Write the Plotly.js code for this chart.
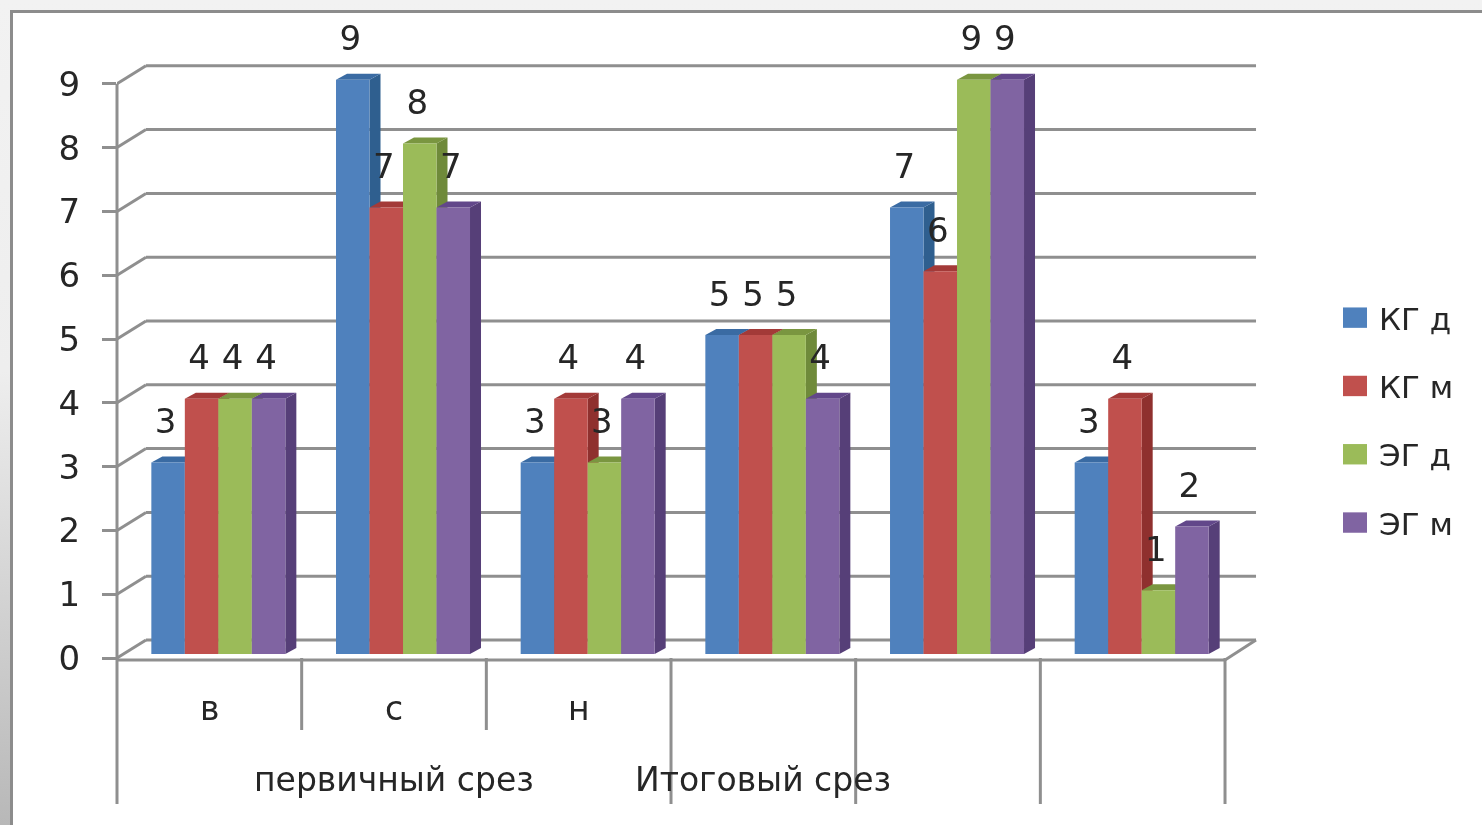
<!DOCTYPE html>
<html><head><meta charset="utf-8">
<script src="https://cdn.plot.ly/plotly-3.0.1.min.js"></script>
<style>
html,body{margin:0;padding:0;width:1482px;height:825px;overflow:hidden;background:linear-gradient(to bottom,#f2f2f2 0,#eeeeee 45%,#b8b8b8 100%);}
#frame{position:absolute;left:10px;top:10px;width:1480px;height:830px;background:#fff;border-left:3px solid #8c8c8c;border-top:3px solid #8c8c8c;}
#chart{position:absolute;left:0;top:0;width:1482px;height:825px;filter:blur(0.6px);}
</style></head>
<body><div id="frame"></div><div id="chart"></div>
<script>
const categories = ["в","с","н","","",""];
const seriesNames = ["КГ д","КГ м","ЭГ д","ЭГ м"];
const kgD = [3,9,3,5,7,3];
const kgM = [4,7,4,5,6,4];
const egD = [4,8,3,5,9,1];
const egM = [4,7,4,4,9,2];
const yTicks = [0,1,2,3,4,5,6,7,8,9];
const frontColors = ["#4f81bd","#c0504d","#9bbb59","#8064a2"];
const sideColors = ["#2f5f8f","#8f302e","#6f8a3a","#563f78"];
const topColors = ["#3a6ba3","#a33a38","#7a9640","#62478a"];
const groupLabels = [{text:"первичный срез",at:1.0},{text:"Итоговый срез",at:3.0}];

const series = [kgD,kgM,egD,egM];
const GRID = "#8f8f8f", FONT = "'DejaVu Sans', sans-serif", TXT = "#262626";
// pixel scale of the axes
const L=117,R=1262,T=20,B=825,UX=184.67,UY=63.8,Y0=658;
const xRange=[-0.5,-0.5+(R-L)/UX];
const yRange=[(Y0-B)/UY,(Y0-T)/UY];
const wallDx=29/UX, wallDy=18/UY, barDx=11/UX, barDy=6/UY;
const barShift=9/UX, groupW=134/UX, barW=groupW/4, barBase=4/UY;
const n=categories.length;
const shapes=[];
const line=(x0,y0,x1,y1,w)=>shapes.push({type:"line",xref:"x",yref:"y",x0,y0,x1,y1,layer:"below",line:{color:GRID,width:w||3}});
const poly=(pts,c)=>shapes.push({type:"path",xref:"x",yref:"y",layer:"below",fillcolor:c,line:{width:0},
  path:"M"+pts.map(p=>p.join(",")).join("L")+"Z"});
const backEnd=n-0.5+wallDx+2/UX;
// walls and gridlines
yTicks.forEach(v=>{
  line(-0.5,v,-0.5+wallDx,v+wallDy);
  line(-0.5+wallDx,v+wallDy,backEnd,v+wallDy);
});
line(-0.5,-0.03,n-0.5,-0.03);
line(n-0.5,-0.03,backEnd,wallDy);
for(let i=0;i<=n;i++){
  const long=i===0||i>=3;
  const yEnd=(Y0-(long?804:730))/UY;
  if(i===0){
    // paper reference so the plot-area clip does not halve this line
    shapes.push({type:"line",xref:"paper",yref:"y",x0:0,x1:0,y0:9,y1:yEnd,layer:"below",line:{color:GRID,width:3}});
  } else line(i-0.5,0,i-0.5,yEnd);
}
// bar depth: sides first, then tops
const barLeft=(i,s)=>i+barShift-groupW/2+s*barW;
series.forEach((vals,s)=>vals.forEach((v,i)=>{
  const r=barLeft(i,s)+barW, b=barBase, t=b+v;
  poly([[r,b],[r+barDx,b+barDy],[r+barDx,t+barDy],[r,t]],sideColors[s]);
}));
series.forEach((vals,s)=>vals.forEach((v,i)=>{
  const l=barLeft(i,s), r=l+barW, t=barBase+v;
  poly([[l,t],[r,t],[r+barDx,t+barDy],[l+barDx,t+barDy]],topColors[s]);
}));
const traces=[];
const xIdx=categories.map((c,i)=>i);
series.forEach((vals,s)=>traces.push({
  type:"bar",name:seriesNames[s],legendgroup:seriesNames[s],x:xIdx.map(i=>i+barShift),y:vals,base:barBase,
  marker:{color:frontColors[s],line:{width:0}},hoverinfo:"skip"
}));
series.forEach((vals,s)=>traces.push({
  type:"scatter",mode:"text",showlegend:false,hoverinfo:"skip",cliponaxis:false,
  x:xIdx.map(i=>barLeft(i,s)+barW/2-2.5/UX),
  y:vals.map(v=>v+barBase+38/UY),
  text:vals.map(String),textposition:"middle center",
  textfont:{family:FONT,size:34,color:TXT}
}));
const annotations=[];
categories.forEach((c,i)=>{ if(c) annotations.push({xref:"x",yref:"y",x:i,y:(Y0-708)/UY,text:c,showarrow:false,
  xanchor:"center",yanchor:"middle",font:{family:FONT,size:33,color:TXT}}); });
groupLabels.forEach(g=>annotations.push({xref:"x",yref:"y",x:g.at,y:(Y0-779)/UY,text:g.text,showarrow:false,
  xanchor:"center",yanchor:"middle",font:{family:FONT,size:33,color:TXT}}));
const layout={
  width:1482,height:825,margin:{l:L,r:1482-R,t:T,b:0,pad:0},
  paper_bgcolor:"rgba(0,0,0,0)",plot_bgcolor:"rgba(0,0,0,0)",
  barmode:"group",bargap:1-groupW,bargroupgap:0,
  xaxis:{range:xRange,showgrid:false,zeroline:false,showline:false,ticks:"",showticklabels:false,fixedrange:true},
  yaxis:{range:yRange,showgrid:false,zeroline:false,showline:false,tickmode:"array",tickvals:yTicks,ticktext:yTicks.map(String),
    ticks:"outside",ticklen:14,tickwidth:3,tickcolor:GRID,ticklabelstandoff:15,tickfont:{family:FONT,size:34,color:TXT},fixedrange:true},
  legend:{x:(1339-L)/(R-L),xanchor:"left",y:(825-291)/(B-T),yanchor:"top",
    bgcolor:"rgba(0,0,0,0)",borderwidth:0,tracegroupgap:25,traceorder:"grouped",
    font:{family:FONT,size:31,color:TXT},itemwidth:30},
  shapes,annotations,showlegend:true
};
Plotly.newPlot("chart",traces,layout,{displayModeBar:false,staticPlot:true}).then(()=>{
  document.querySelectorAll("#chart .legendpoints path").forEach(p=>{
    p.setAttribute("transform","translate(16,0) scale(2,1.7)");
  });
});
</script></body></html>
